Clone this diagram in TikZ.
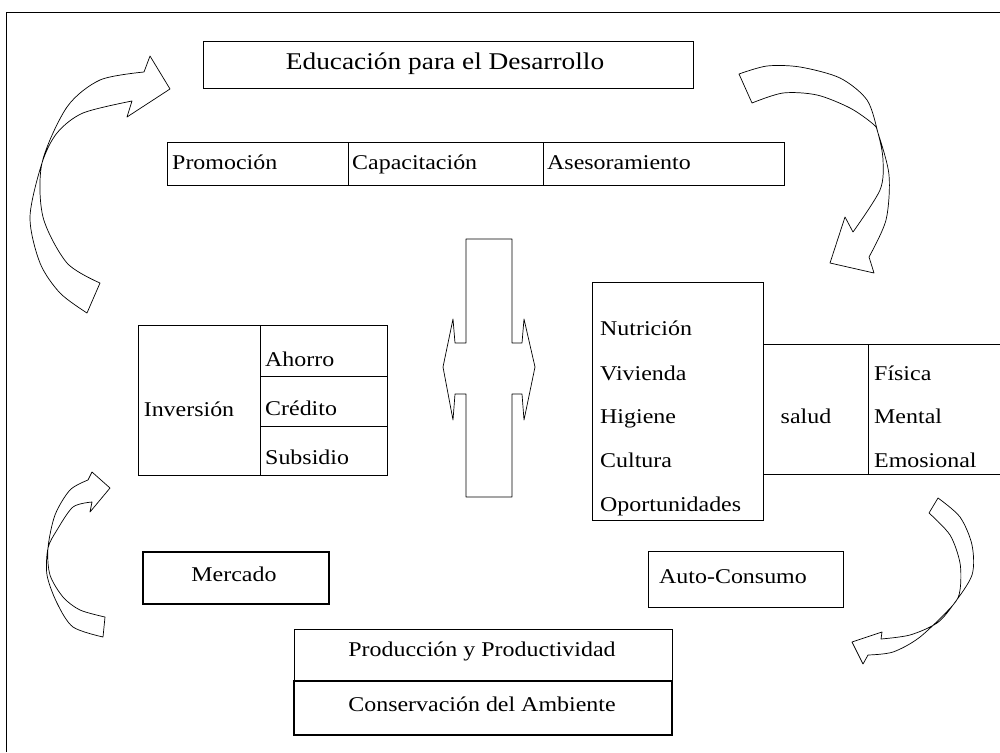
\documentclass[tikz,border=0pt]{standalone}
\usepackage{fontspec}
\setmainfont{Liberation Serif}[FakeStretch=1.14]
\begin{document}
\begin{tikzpicture}[x=1pt,y=-1pt,
  box/.style={draw=black,line width=0.9pt},
  thickbox/.style={draw=black,line width=2pt},
  lbl/.style={inner sep=0pt,text height=14pt,text depth=4pt,font=\fontsize{21}{24}\selectfont},
  ttl/.style={inner sep=0pt,text height=16pt,text depth=5pt,font=\fontsize{24}{28}\selectfont},
  blockarrow/.style={draw=black,line width=0.7pt,fill=white,line join=round}]
\useasboundingbox (0,0) rectangle (1000,752);
% frame
\draw[line width=0.8pt] (6,752) -- (6,12) -- (1000,12);
% title
\draw[box] (203,41) rectangle (693,88);
\node[ttl] (edu) at (445,64) {Educación para el Desarrollo};
% row
\draw[box] (167,142) rectangle (784,185);
\draw[box] (348,142) -- (348,185);
\draw[box] (543,142) -- (543,185);
\node[lbl,anchor=west] (prom) at (172,164) {Promoción};
\node[lbl,anchor=west] (cap) at (352,164) {Capacitación};
\node[lbl,anchor=west] (ases) at (547,164) {Asesoramiento};
% central double arrow
\draw[blockarrow] (466,239) -- (512,239) -- (512,343) -- (522,343) -- (524,319) -- (535,367)
  -- (524,420) -- (522,394) -- (512,394) -- (512,497) -- (466,497) -- (466,394) -- (455,394)
  -- (453,420) -- (443,367) -- (453,319) -- (455,343) -- (466,343) -- cycle;
% Inversion block
\draw[box] (138,325) rectangle (387,475);
\draw[box] (260,325) -- (260,475);
\draw[box] (260,376) -- (387,376);
\draw[box] (260,426) -- (387,426);
\node[lbl] (inv) at (189,411) {Inversión};
\node[lbl,anchor=west] (aho) at (265,361) {Ahorro};
\node[lbl,anchor=west] (cre) at (265,410) {Crédito};
\node[lbl,anchor=west] (sub) at (265,459) {Subsidio};
% Nutricion block
\draw[box] (592,282) rectangle (763,520);
\node[lbl,anchor=west] (nut) at (600,330) {Nutrición};
\node[lbl,anchor=west] (viv) at (600,375) {Vivienda};
\node[lbl,anchor=west] (hig) at (600,418) {Higiene};
\node[lbl,anchor=west] (cul) at (600,462) {Cultura};
\node[lbl,anchor=west] (opo) at (600,506) {Oportunidades};
% salud block
\draw[box] (1000,344) -- (763,344) -- (763,474) -- (1000,474);
\draw[box] (868,344) -- (868,474);
\node[lbl] (sal) at (806,418) {salud};
\node[lbl,anchor=west] (fis) at (874,375) {Física};
\node[lbl,anchor=west] (men) at (874,418) {Mental};
\node[lbl,anchor=west] (emo) at (874,462) {Emosional};
% Mercado, Auto-Consumo
\draw[thickbox] (143,552) rectangle (329,604);
\node[lbl] (mer) at (234,576) {Mercado};
\draw[box] (648,551) rectangle (843,607);
\node[lbl] (auto) at (733,578) {Auto-Consumo};
% bottom boxes
\draw[box] (294,629) rectangle (672,681);
\draw[thickbox] (294,681) rectangle (672,735);
\node[lbl] (prod) at (482,651) {Producción y Productividad};
\node[lbl] (cons) at (482,706) {Conservación del Ambiente};
% curved arrows
\draw[blockarrow] plot[smooth] coordinates {(87,313) (60,293) (40,263) (30,217) (42,163) (57,133) (83,113) (132,101)}
  -- (127,117) -- (170,89) -- (150,56)
  -- plot[smooth] coordinates {(144,72) (100,80) (67,107) (42,163) (43,217) (67,263) (100,283)} -- cycle;
\draw[blockarrow] plot[smooth] coordinates {(739,74) (767,66) (800,67) (840,78) (867,100) (878,133) (883,160) (880,190) (853,232)}
  -- (845,217) -- (830,263) -- (874,273)
  -- plot[smooth] coordinates {(869,257) (886,220) (889,175) (878,133) (873,124) (850,108) (817,95) (783,93) (752,103)} -- cycle;
\draw[blockarrow] plot[smooth] coordinates {(938,498) (960,517) (972,545) (972,575) (953,605) (937,623) (910,635) (881,639)}
  -- (882,632) -- (852,642) -- (863,664)
  -- plot[smooth] coordinates {(868,655) (893,652) (920,637) (953,605) (960,590) (960,563) (950,535) (929,513)} -- cycle;
\draw[blockarrow] plot[smooth] coordinates {(88,480) (70,490) (55,515) (48,548) (50,575) (63,597) (80,610) (105,617)}
  -- plot[smooth] coordinates {(103,637) (73,627) (57,603) (47,575) (48,548) (57,530) (73,507) (92,502)}
  -- (90,512) -- (110,488) -- (92,472) -- cycle;
\end{tikzpicture}
\end{document}
